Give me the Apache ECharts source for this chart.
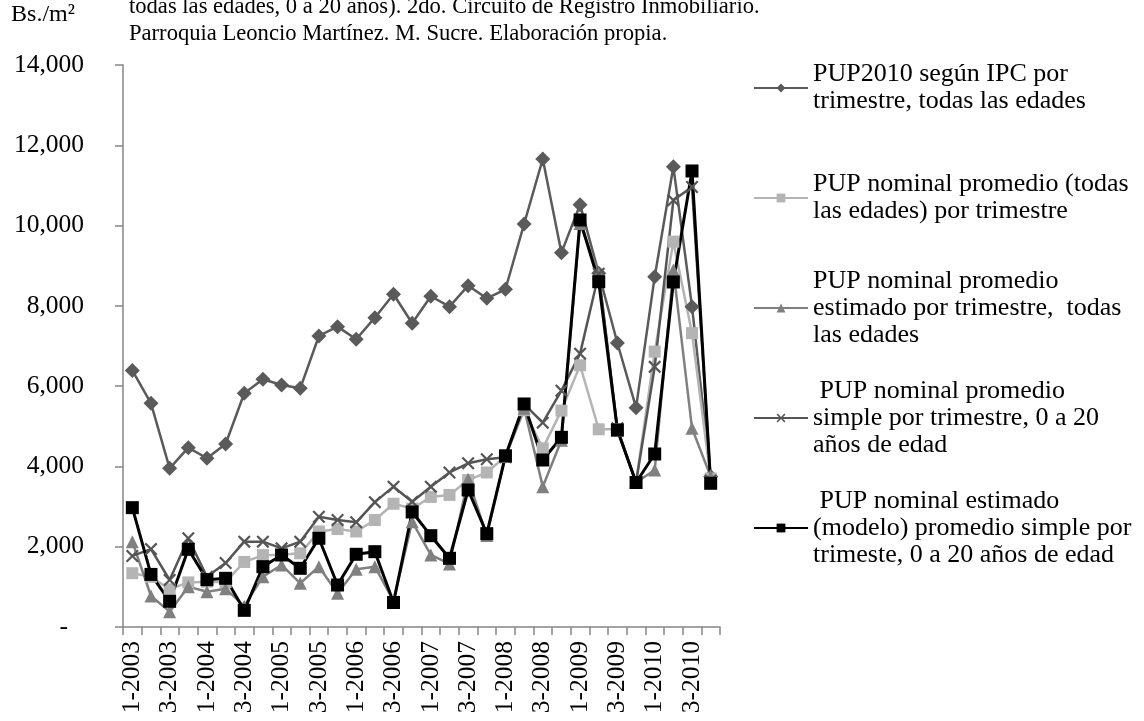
<!DOCTYPE html>
<html>
<head>
<meta charset="utf-8">
<script src="https://cdn.jsdelivr.net/npm/echarts@6/dist/echarts.min.js"></script>
<style>
  html, body { margin: 0; padding: 0; background: #fff; }
  #chart { width: 1144px; height: 721px; }
</style>
</head>
<body>
<div id="chart"></div>
<script>
// Quarters, 2003 to 2010
const quarters = [
  '1-2003','2-2003','3-2003','4-2003',
  '1-2004','2-2004','3-2004','4-2004',
  '1-2005','2-2005','3-2005','4-2005',
  '1-2006','2-2006','3-2006','4-2006',
  '1-2007','2-2007','3-2007','4-2007',
  '1-2008','2-2008','3-2008','4-2008',
  '1-2009','2-2009','3-2009','4-2009',
  '1-2010','2-2010','3-2010','4-2010'
];

// Bs./m2 per quarter
const pupIpc = [6390, 5573, 3953, 4467, 4203, 4559, 5822, 6170, 6029, 5946, 7250, 7482, 7167, 7706, 8288, 7566,
                8240, 7980, 8503, 8189, 8413, 10040, 11659, 9325, 10520, 8811, 7075, 5464, 8727, 11467, 7980, 3750];
const pupNominal = [1340, 1250, 940, 1110, 1130, 1120, 1620, 1790, 1800, 1835, 2380, 2440, 2380, 2665, 3070, 2950,
                    3240, 3290, 3660, 3850, 4250, 5400, 4450, 5390, 6520, 4925, 4925, 3600, 6860, 9600, 7320, 3700];
const pupEstimado = [2126, 772, 382, 1005, 880, 955, 520, 1254, 1545, 1089, 1503, 840, 1437, 1503, 650, 2624,
                     1794, 1570, 3680, 2280, 4250, 5450, 3496, 4650, 10050, 8800, 4900, 3600, 3911, 8894, 4950, 3745];
const pupSimple = [1770, 1940, 1171, 2210, 1250, 1594, 2126, 2126, 1960, 2126, 2748, 2666, 2608, 3110, 3496, 3122,
                   3496, 3850, 4078, 4178, 4230, 5550, 5090, 5887, 6810, 8800, 4950, 3600, 6480, 10630, 10960, 3650];
const pupModelo = [2973, 1310, 640, 1935, 1180, 1213, 415, 1503, 1794, 1462, 2210, 1046, 1811, 1876, 610, 2865,
                   2275, 1711, 3413, 2325, 4265, 5556, 4160, 4725, 10140, 8602, 4908, 3600, 4310, 8595, 11360, 3580];

const seriesNames = [
  'PUP2010 según IPC por\ntrimestre, todas las edades',
  'PUP nominal promedio (todas\nlas edades) por trimestre',
  'PUP nominal promedio\nestimado por trimestre,  todas\nlas edades',
  ' PUP nominal promedio\nsimple por trimestre, 0 a 20\naños de edad',
  ' PUP nominal estimado\n(modelo) promedio simple por\ntrimeste, 0 a 20 años de edad'
];

const FONT = '"Liberation Serif", "Times New Roman", serif';
const CROSS = 'path://M0,1.2 L1.2,0 L5,3.8 L8.8,0 L10,1.2 L6.2,5 L10,8.8 L8.8,10 L5,6.2 L1.2,10 L0,8.8 L3.8,5 Z';

// one legend block per series, icon aligned with the first text line
const LINE_H = 27;
const legendCenters = [88, 198, 308, 418, 528];
const legends = seriesNames.map((name, i) => {
  const n = name.split('\n').length;
  return {
    data: [name],
    left: 753,
    top: legendCenters[i] - (2 * n - 1) * LINE_H / 2,
    padding: 0,
    itemWidth: 54,
    itemHeight: 11,
    selectedMode: false,
    textStyle: {
      fontFamily: FONT, fontSize: 26, color: '#000',
      lineHeight: LINE_H, padding: [(n - 1) * LINE_H, 0, 0, 0]
    }
  };
});

const lineSeries = (i, data, symbol, size, color, width) => ({
  name: seriesNames[i], type: 'line', data,
  symbol, symbolSize: size, showAllSymbol: true,
  itemStyle: { color }, lineStyle: { color, width }
});

const chart = echarts.init(document.getElementById('chart'), null, { renderer: 'canvas' });
chart.setOption({
  animation: false,
  backgroundColor: '#fff',
  title: {
    text: 'todas las edades, 0 a 20 años). 2do. Circuito de Registro Inmobiliario.\nParroquia Leoncio Martínez. M. Sucre. Elaboración propia.',
    left: 129, top: -6, padding: 0,
    textStyle: { fontFamily: FONT, fontSize: 22.6, fontWeight: 'normal', color: '#000', lineHeight: LINE_H }
  },
  legend: legends,
  grid: { left: 123, right: 424, top: 65, bottom: 94, containLabel: false },
  xAxis: {
    type: 'category',
    data: quarters,
    boundaryGap: true,
    axisLine: { lineStyle: { color: '#868686', width: 1.5 } },
    axisTick: { show: true, interval: 0, length: 8, lineStyle: { color: '#868686', width: 1.5 } },
    axisLabel: { interval: 1, rotate: 90, margin: 14, fontFamily: FONT, fontSize: 25.5, color: '#000' },
    splitLine: { show: false }
  },
  yAxis: {
    type: 'value',
    min: 0, max: 14000, interval: 2000,
    name: 'Bs./m²',
    nameLocation: 'end',
    nameGap: 38,
    nameTextStyle: { fontFamily: FONT, fontSize: 24, color: '#000', align: 'center', padding: [0, 0, 0, -160] },
    axisLine: { show: true, lineStyle: { color: '#868686', width: 1.5 } },
    axisTick: { show: true, length: 8, lineStyle: { color: '#868686', width: 1.5 } },
    splitLine: { show: false },
    axisLabel: {
      margin: 39, fontFamily: FONT, fontSize: 25.5, color: '#000',
      formatter: v => v === 0 ? '{z|-}' : v.toLocaleString('en-US'),
      rich: { z: { fontFamily: FONT, fontSize: 25.5, color: '#000', padding: [0, 16, 0, 0] } }
    }
  },
  series: [
    lineSeries(0, pupIpc, 'diamond', 15, '#5a5a5a', 2.5),
    lineSeries(1, pupNominal, 'rect', 12, '#b4b4b4', 2.5),
    lineSeries(2, pupEstimado, 'triangle', 13, '#808080', 2.5),
    lineSeries(3, pupSimple, CROSS, 13, '#555555', 2.5),
    lineSeries(4, pupModelo, 'rect', 13, '#000000', 3)
  ]
});
</script>
</body>
</html>
